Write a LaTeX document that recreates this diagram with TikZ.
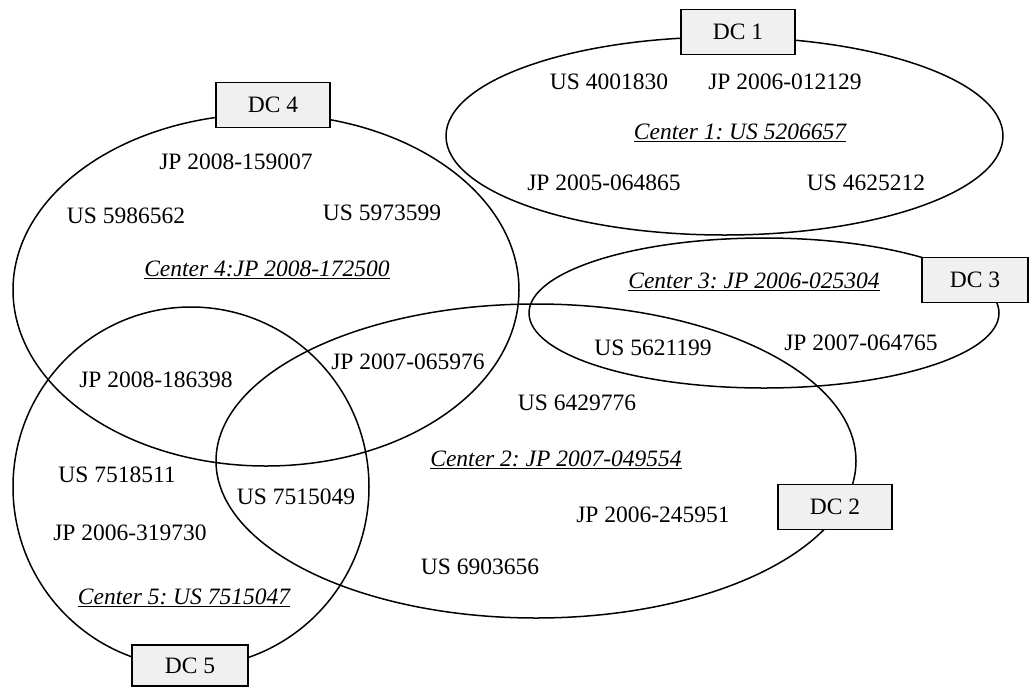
\documentclass[tikz,border=0pt]{standalone}
\usepackage{fontspec}
\setmainfont{Liberation Serif}
\frenchspacing
\newcommand{\labelsize}{\fontsize{23.5}{28}\selectfont}
\begin{document}
\begin{tikzpicture}[x=1pt,y=-1pt,
  ring/.style={draw=black,line width=1.5pt},
  dcbox/.style={draw=black,line width=1.5pt,fill=gray!12,minimum width=114pt,minimum height=45pt,inner sep=0pt,font=\labelsize},
  lbl/.style={inner sep=0pt,font=\labelsize},
  ctr/.style={inner sep=0pt,font=\labelsize\itshape}]
\useasboundingbox (0,0) rectangle (1029,686);

% patent clusters
\draw[ring] (724.5,136) ellipse [x radius=278.5pt, y radius=99pt];
\draw[ring] (266,290) ellipse [x radius=253pt, y radius=176pt];
\draw[ring] (764,313) ellipse [x radius=235pt, y radius=75pt];
\draw[ring] (536,461) ellipse [x radius=320pt, y radius=157pt];
\draw[ring] (191,487) ellipse [x radius=178pt, y radius=180pt];

% cluster tags
\node[dcbox] (dc1) at (738,32) {DC 1};
\node[dcbox] (dc4) at (273,105) {DC 4};
\node[dcbox,minimum width=106pt] (dc3) at (975,280) {DC 3};
\node[dcbox] (dc2) at (835,507) {DC 2};
\node[dcbox,minimum width=116pt,minimum height=41pt] (dc5) at (190,665.5) {DC 5};

% cluster 1
\node[lbl] (a1) at (609,82) {US 4001830};
\node[lbl] (a2) at (785,82) {JP 2006-012129};
\node[ctr] (c1) at (740,133) {\underline{Center 1: US 5206657}};
\node[lbl] (a3) at (604,183) {JP 2005-064865};
\node[lbl] (a4) at (866,183) {US 4625212};

% cluster 4
\node[lbl] (b1) at (236,162) {JP 2008-159007};
\node[lbl] (b2) at (126,216) {US 5986562};
\node[lbl] (b3) at (382,213) {US 5973599};
\node[ctr] (c4) at (267,270) {\underline{Center 4:JP 2008-172500}};

% cluster 3
\node[ctr] (c3) at (754,282) {\underline{Center 3: JP 2006-025304}};
\node[lbl] (d1) at (653,348) {US 5621199};
\node[lbl] (d2) at (861,343) {JP 2007-064765};

% cluster 2 and overlaps
\node[lbl] (e1) at (408,362) {JP 2007-065976};
\node[lbl] (e2) at (156,380) {JP 2008-186398};
\node[lbl] (e3) at (577,403) {US 6429776};
\node[ctr] (c2) at (556,460) {\underline{Center 2: JP 2007-049554}};
\node[lbl] (e4) at (653,515) {JP 2006-245951};
\node[lbl] (e5) at (480,567) {US 6903656};

% cluster 5
\node[lbl] (f1) at (117,475) {US 7518511};
\node[lbl] (f2) at (296,497) {US 7515049};
\node[lbl] (f3) at (130,533) {JP 2006-319730};
\node[ctr] (c5) at (184,598) {\underline{Center 5: US 7515047}};
\end{tikzpicture}
\end{document}
